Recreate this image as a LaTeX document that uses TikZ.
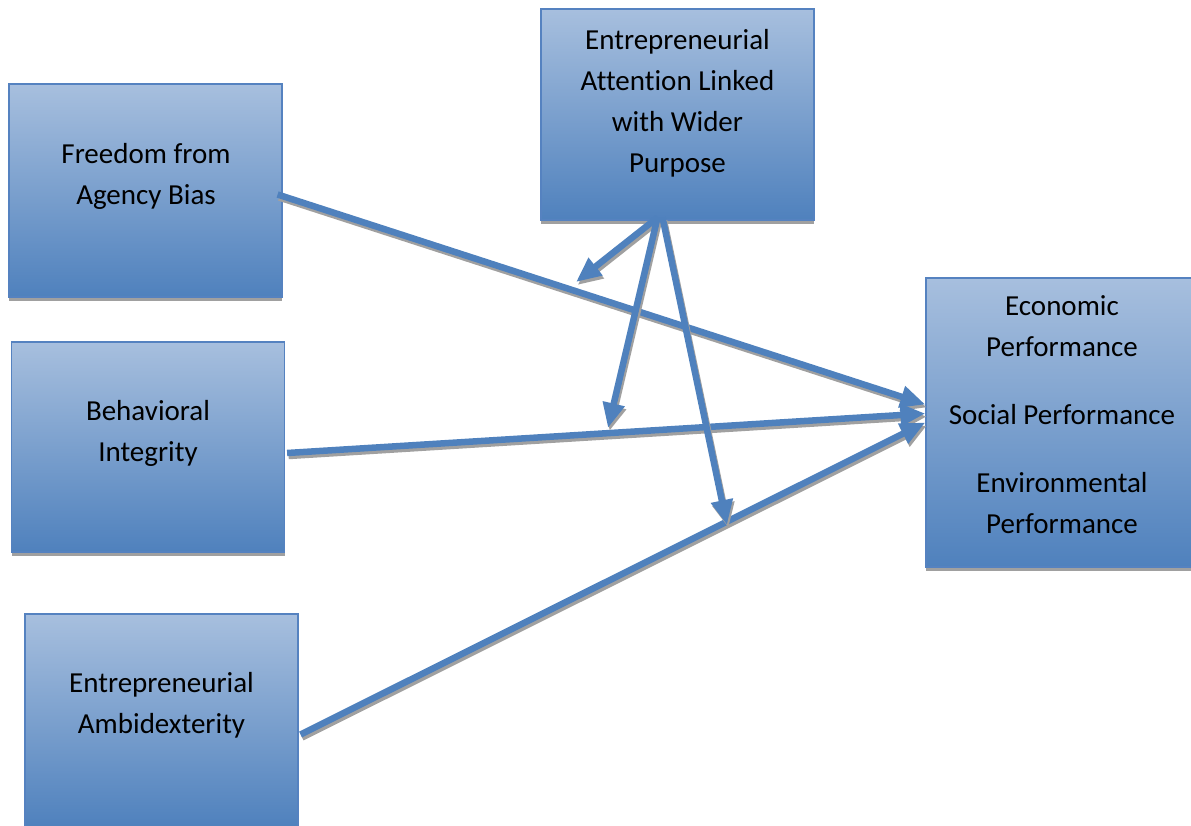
\documentclass[tikz,border=0pt]{standalone}
\usepackage{fontspec}
\setmainfont[Ligatures={NoCommon}]{Carlito}
\usetikzlibrary{arrows.meta,shadows}
\definecolor{boxtop}{RGB}{167,191,222}
\definecolor{boxbot}{RGB}{79,129,189}
\definecolor{boxline}{RGB}{85,130,192}
\definecolor{linkblue}{RGB}{79,129,189}
\definecolor{shade}{RGB}{160,160,160}
\tikzset{
  panel/.style={rectangle, draw=boxline, line width=1.2pt,
    top color=boxtop, bottom color=boxbot,
    minimum width=273pt, inner sep=0pt,
    drop shadow={shadow xshift=0pt, shadow yshift=-4pt, fill=shade, opacity=1}},
  caption/.style={anchor=base, align=center, inner sep=0pt,
    font=\fontsize{29}{41}\selectfont},
  link/.style={draw=linkblue, line width=6.5pt,
    -{Triangle[length=25pt,width=21pt]}}
}
% link with its grey shadow
\newcommand\linkdraw[2]{%
  \draw[link, draw=shade, transform canvas={xshift=1.5pt,yshift=-3pt}] #1 -- #2;
  \draw[link] #1 -- #2;}
\begin{document}
\begin{tikzpicture}[x=1pt,y=-1pt]
	\useasboundingbox (0,0) rectangle (1191,825);
	% boxes
	\node[panel, minimum height=213pt] (freedom) at (145.5,190.5) {};
	\node[panel, minimum height=210pt] (behav) at (148,447) {};
	\node[panel, minimum height=213pt] (ambi) at (161.5,720.5) {};
	\node[panel, minimum height=211pt] (attn) at (677.5,114.5) {};
	\node[panel, minimum height=289pt] (perf) at (1062.5,422.5) {};
	% texts
	\node[caption] (freedomtxt) at (146,204) {Freedom from\\Agency Bias};
	\node[caption] (behavtxt) at (148,461) {Behavioral\\Integrity};
	\node[caption] (ambitxt) at (161.5,733) {Entrepreneurial\\Ambidexterity};
	\node[caption] (attntxt) at (677.5,172) {Entrepreneurial\\Attention Linked\\with Wider\\Purpose};
	\node[caption] (perftxt) at (1062,533) {Economic\\Performance\\[27pt]Social Performance\\[27pt]Environmental\\Performance};
	% links
	\coordinate (m1) at (576,282);
	\coordinate (m2) at (608,428);
	\coordinate (m3) at (727,525);
	\linkdraw{([shift={(-5pt,-4pt)}]freedom.east)}{([yshift=18pt]perf.west)}
	\linkdraw{([shift={(2pt,-6pt)}]behav.east)}{([yshift=9pt]perf.west)}
	\linkdraw{([shift={(2pt,-14pt)}]ambi.east)}{(perf.west)}
	% moderation
	\linkdraw{([shift={(-20pt,3pt)}]attn.south)}{(m1)}
	\linkdraw{([shift={(-20pt,3pt)}]attn.south)}{(m2)}
	\linkdraw{([shift={(-15pt,3pt)}]attn.south)}{(m3)}
\end{tikzpicture}
\end{document}
